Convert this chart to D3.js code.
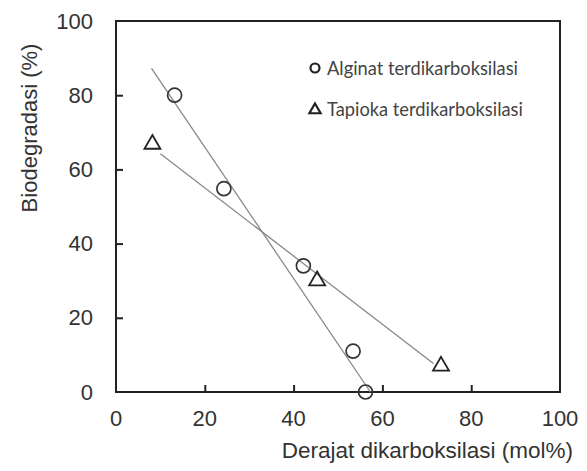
<!DOCTYPE html>
<html>
<head>
<meta charset="utf-8">
<script src="https://cdn.jsdelivr.net/npm/d3@7"></script>
<style>
  body { margin: 0; background: #fff; }
  svg { display: block; }
</style>
</head>
<body>
<div id="chart"></div>
<script>
// data
let alginatX = [13.2, 24.3, 42.2, 53.4, 56.2];
let alginatY = [80, 54.8, 34, 11, 0];
let tapiokaX = [8.2, 45.3, 73.2];
let tapiokaY = [66.8, 30, 7];
// trend lines (end points)
let alginatFitX = [8, 57.3];
let alginatFitY = [87.2, 0];
let tapiokaFitX = [10, 71.5];
let tapiokaFitY = [64.2, 7.7];
let xTicks = [0, 20, 40, 60, 80, 100];
let yTicks = [0, 20, 40, 60, 80, 100];
let legendNames = ['Alginat terdikarboksilasi', 'Tapioka terdikarboksilasi'];

let width = 587, height = 471;
let mLeft = 116, mTop = 21, mRight = 560, mBottom = 392;

let svg = d3.select('#chart').append('svg').attr('width', width).attr('height', height);

let x = d3.scaleLinear().domain([0, 100]).range([mLeft, mRight]);
let y = d3.scaleLinear().domain([0, 100]).range([mBottom, mTop]);

let font = 'Liberation Sans, Arial, sans-serif';

// frame
svg.append('rect')
  .attr('x', mLeft).attr('y', mTop)
  .attr('width', mRight - mLeft).attr('height', mBottom - mTop)
  .attr('fill', 'none').attr('stroke', '#222').attr('stroke-width', 2);

// ticks inside
let xAxis = d3.axisTop(x).tickValues([20, 40, 60, 80]).tickSize(7).tickFormat('');
let yAxis = d3.axisRight(y).tickValues([20, 40, 60, 80]).tickSize(7).tickFormat('');
let gx = svg.append('g').attr('transform', 'translate(0,' + mBottom + ')').call(xAxis);
let gy = svg.append('g').attr('transform', 'translate(' + mLeft + ',0)').call(yAxis);
gx.select('.domain').remove();
gy.select('.domain').remove();
svg.selectAll('.tick line').attr('stroke', '#222').attr('stroke-width', 2);

// tick labels
svg.selectAll('text.xl').data(xTicks).enter().append('text')
  .attr('class', 'xl')
  .attr('x', d => x(d)).attr('y', 426)
  .attr('text-anchor', 'middle')
  .attr('font-family', font).attr('font-size', 22)
  .attr('fill', '#333')
  .text(d => d);
svg.selectAll('text.yl').data(yTicks).enter().append('text')
  .attr('class', 'yl')
  .attr('x', 93).attr('y', d => y(d) + 7.5)
  .attr('text-anchor', 'end')
  .attr('font-family', font).attr('font-size', 22)
  .attr('fill', '#333')
  .text(d => d);

// axis titles
svg.append('text')
  .attr('x', 573).attr('y', 458)
  .attr('text-anchor', 'end')
  .attr('font-family', font).attr('font-size', 22.5)
  .attr('fill', '#333')
  .text('Derajat dikarboksilasi (mol%)');
svg.append('text')
  .attr('transform', 'translate(37,128) rotate(-90)')
  .attr('text-anchor', 'middle')
  .attr('font-family', font).attr('font-size', 22)
  .attr('fill', '#333')
  .text('Biodegradasi (%)');

// trend lines
let line = d3.line().x(d => x(d[0])).y(d => y(d[1]));
svg.append('path')
  .attr('d', line(d3.zip(alginatFitX, alginatFitY)))
  .attr('fill', 'none').attr('stroke', '#888').attr('stroke-width', 1.3);
svg.append('path')
  .attr('d', line(d3.zip(tapiokaFitX, tapiokaFitY)))
  .attr('fill', 'none').attr('stroke', '#888').attr('stroke-width', 1.3);

// points
let circles = d3.zip(alginatX, alginatY);
svg.selectAll('circle.alg').data(circles).enter().append('circle')
  .attr('class', 'alg')
  .attr('cx', d => x(d[0])).attr('cy', d => y(d[1]))
  .attr('r', 7)
  .attr('fill', 'none').attr('stroke', '#333').attr('stroke-width', 1.7);

let tri = d3.symbol().type(d3.symbolTriangle).size(110);
let triangles = d3.zip(tapiokaX, tapiokaY);
svg.selectAll('path.tap').data(triangles).enter().append('path')
  .attr('class', 'tap')
  .attr('transform', d => 'translate(' + x(d[0]) + ',' + y(d[1]) + ')')
  .attr('d', tri)
  .attr('fill', 'none').attr('stroke', '#222').attr('stroke-width', 1.8);

// legend
let legendY = [68, 109];
svg.append('circle')
  .attr('cx', 315).attr('cy', legendY[0]).attr('r', 4.5)
  .attr('fill', 'none').attr('stroke', '#222').attr('stroke-width', 2.2);
svg.append('path')
  .attr('transform', 'translate(315,' + (legendY[1] + 1) + ')')
  .attr('d', d3.symbol().type(d3.symbolTriangle).size(55))
  .attr('fill', 'none').attr('stroke', '#222').attr('stroke-width', 2.2);
svg.selectAll('text.leg').data(legendNames).enter().append('text')
  .attr('class', 'leg')
  .attr('x', 327).attr('y', (d, i) => legendY[i] + 7)
  .attr('font-family', 'Lato, sans-serif').attr('font-size', 18.3)
  .attr('fill', '#444')
  .text(d => d);
</script>
</body>
</html>
